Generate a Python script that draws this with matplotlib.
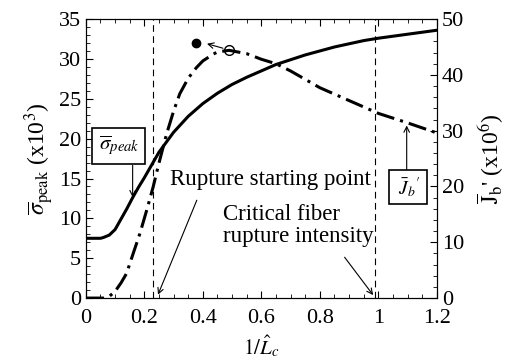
import matplotlib
matplotlib.use("Agg")
import matplotlib.pyplot as plt
from matplotlib.ticker import MultipleLocator

plt.rcParams['font.family'] = ['Liberation Serif', 'DejaVu Serif']
plt.rcParams['mathtext.fontset'] = 'stix'

# solid curve, left axis (x10^3)
x_sigma = [0, 0.05, 0.06, 0.08, 0.1, 0.12, 0.14, 0.16, 0.18, 0.2, 0.25, 0.3, 0.35,
           0.4, 0.45, 0.5, 0.55, 0.6, 0.65, 0.7, 0.75, 0.8, 0.85, 0.9, 0.95,
           1.0, 1.1, 1.2]
sigma = [7.5, 7.5, 7.6, 7.9, 8.6, 9.9, 11.2, 12.6, 13.9, 15.1, 18.3, 20.8, 22.8,
         24.4, 25.7, 26.8, 27.7, 28.5, 29.3, 29.9, 30.5, 31.0, 31.5, 31.9, 32.3,
         32.6, 33.1, 33.6]

# dash-dot curve, right axis (x10^6)
x_j = [0, 0.06, 0.08, 0.1, 0.12, 0.139, 0.16, 0.185, 0.21, 0.23, 0.25, 0.276,
       0.3, 0.321, 0.35, 0.378, 0.4, 0.435, 0.45, 0.49, 0.55, 0.6, 0.65, 0.7,
       0.8, 0.9, 1.0, 1.1, 1.2]
j_b = [0, 0, 0.3, 1.2, 2.7, 4.4, 7.7, 11.6, 16.1, 19.9, 24.2, 29.4,
       33.5, 36.6, 39.4, 41.3, 42.5, 43.7, 44.1, 44.4, 43.8, 42.8, 42.0, 40.7,
       37.7, 35.4, 33.1, 31.4, 29.6]

x_rupture = 0.23
x_critical = 0.99
filled_pt = (0.376, 32.0)
open_pt = (0.49, 31.1)

fig = plt.figure(figsize=(5.05, 3.6), dpi=100)
ax = fig.add_axes([0.170, 0.172, 0.695, 0.775])
ax2 = ax.twinx()

ax.plot(x_sigma, sigma, color='black', lw=2.2, solid_joinstyle='round')
ax2.plot(x_j, j_b, color='black', lw=2.2, dashes=(6, 2, 1, 2))

ax.axvline(x_rupture, color='black', lw=0.8, dashes=(6, 4))
ax.axvline(x_critical, color='black', lw=0.8, dashes=(6, 4))

ax.plot(*filled_pt, 'o', color='black', ms=6, zorder=5)
ax.plot(*open_pt, 'o', mfc='white', mec='black', mew=1, ms=7, zorder=5)
ax.annotate('', xy=(0.405, 32.0), xytext=(0.478, 31.25),
            arrowprops=dict(arrowstyle='->', lw=0.8, color='black'))

ax.set_xlim(0, 1.2)
ax.set_ylim(0, 35)
ax2.set_ylim(0, 50)

ax.xaxis.set_major_locator(MultipleLocator(0.2))
ax.xaxis.set_minor_locator(MultipleLocator(0.05))
ax.yaxis.set_major_locator(MultipleLocator(5))
ax.yaxis.set_minor_locator(MultipleLocator(1))
ax2.yaxis.set_major_locator(MultipleLocator(10))
ax2.yaxis.set_minor_locator(MultipleLocator(2))
ax.set_xticks([0, 0.2, 0.4, 0.6, 0.8, 1.0, 1.2], ['0', '0.2', '0.4', '0.6', '0.8', '1', '1.2'])

ax.tick_params(which='both', direction='in', top=True, right=False, labelsize=16)
ax.tick_params(axis='x', pad=8)
ax.tick_params(which='major', length=5)
ax.tick_params(which='minor', length=3)
ax2.tick_params(which='both', direction='in', labelsize=16)
ax2.tick_params(which='major', length=5)
ax2.tick_params(which='minor', length=3)

ax.set_xlabel(r'$1/\hat{L}_c$', fontsize=15, labelpad=4)
ax.set_ylabel(r'$\overline{\sigma}_{\rm peak}$ (x10$^3$)', fontsize=17, labelpad=2)
ax2.set_ylabel(r"$\overline{\rm J}_{\rm b}$' (x10$^6$)", fontsize=17, labelpad=8)

box = dict(boxstyle='square,pad=0.3', fc='white', ec='black', lw=1.2)
ax.text(0.113, 19.1, r'$\overline{\sigma}_{peak}$', fontsize=15, ha='center', va='center',
        bbox=box, zorder=6)
ax.annotate('', xy=(0.16, 12.3), xytext=(0.16, 17.0),
            arrowprops=dict(arrowstyle='->', lw=0.8, color='black'))

ax.text(1.101, 13.9, r" $\bar{J}_b{}'$ ", fontsize=14, ha='center', va='center',
        bbox=dict(boxstyle='square,pad=0.25', fc='white', ec='black', lw=1.2), zorder=6)
ax.annotate('', xy=(1.097, 22.0), xytext=(1.097, 15.8),
            arrowprops=dict(arrowstyle='->', lw=0.8, color='black'))

ax.text(0.287, 14.9, 'Rupture starting point', fontsize=16.5, ha='left', va='center',
        bbox=dict(fc='white', ec='none', pad=0.5))
ax.annotate('', xy=(0.243, 0.1), xytext=(0.383, 12.6),
            arrowprops=dict(arrowstyle='->', lw=0.8, color='black'))

ax.text(0.468, 9.1, 'Critical fiber\nrupture intensity', fontsize=16.5, ha='left', va='center',
        linespacing=1.05, bbox=dict(fc='white', ec='none', pad=0.5))
ax.annotate('', xy=(0.988, 0.1), xytext=(0.879, 5.4),
            arrowprops=dict(arrowstyle='->', lw=0.8, color='black'))

fig.savefig('out.png', dpi=100)
